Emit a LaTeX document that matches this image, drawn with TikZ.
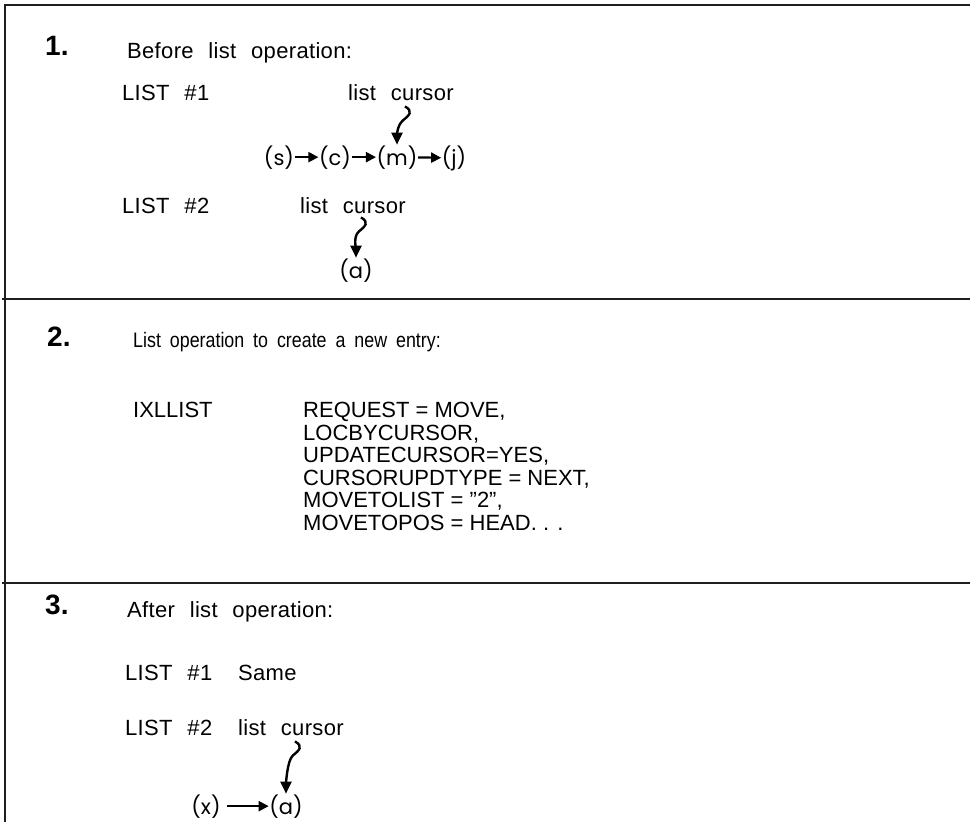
\documentclass[tikz,border=0pt]{standalone}
\usepackage{fontspec}
\setmainfont{Liberation Sans}
\newfontfamily\spaced{Liberation Sans}[LetterSpace=1.5,WordSpace=2.3]
\newfontfamily\narrow{Liberation Sans}[FakeStretch=0.85,WordSpace=1.8]
\newfontfamily\geo{Poppins}
\usetikzlibrary{arrows.meta}
\begin{document}
\begin{tikzpicture}[x=1pt,y=-1pt,
  frame/.style={line width=2.6pt,draw=black!88},
  num/.style={font=\fontsize{28}{28}\selectfont\bfseries,anchor=base west,inner sep=0pt},
  txt/.style={font=\spaced\fontsize{22}{22}\selectfont,anchor=base west,inner sep=0pt},
  plain/.style={font=\narrow\fontsize{21}{21}\selectfont,anchor=base west,inner sep=0pt},
  code/.style={font=\fontsize{22}{22}\selectfont,anchor=base west,inner sep=0pt},
  item/.style={font=\geo\fontsize{21}{21}\selectfont,anchor=base,inner sep=0.5pt},
  link/.style={line width=2.2pt,-{Triangle[length=10pt,width=10pt]}},
  squig/.style={line width=2.4pt,-{Triangle[length=12pt,width=11pt]}}
]
\useasboundingbox (0,0) rectangle (970,822);
\fill[white] (0,0) rectangle (970,822);
% frame
\draw[frame] (970,5) -- (5,5) -- (5,830);
\draw[frame] (2,299) -- (970,299);
\draw[frame] (2,583) -- (970,583);
% section 1
\node[num] (n1) at (45,55) {1.};
\node[txt] (h1) at (127,58) {Before list operation:};
\node[txt] (l11) at (122,100) {LIST \#1};
\node[txt] (lc1) at (348,100) {list cursor};
\node[item] (s) at (279,165) {(s)};
\node[item] (c) at (335,165) {(c)};
\node[item] (m) at (397,165) {(m)};
\node[item] (j) at (454,165) {(j)};
\draw[link] (s) -- (c);
\draw[link] (c) -- (m);
\draw[link] (m) -- (j);
\draw[squig] ([xshift=4pt,yshift=-6pt]lc1.south) .. controls +(9,5) and +(6,-5) .. ++(-2,14) .. controls +(-6,5) and +(0,-8) .. (m.north);
\node[txt] (l12) at (122,213) {LIST \#2};
\node[txt] (lc2) at (300,213) {list cursor};
\node[item] (a1) at (356,278) {(a)};
\draw[squig] ([xshift=8pt,yshift=-4pt]lc2.south) .. controls +(9,5) and +(6,-5) .. ++(-2,14) .. controls +(-6,5) and +(0,-8) .. (a1.north);
% section 2
\node[num] (n2) at (47,346) {2.};
\node[plain] (h2) at (133,347) {List operation to create a new entry:};
\node[code] (ix) at (133,417) {IXLLIST};
\node[code] (r1) at (303,417) {REQUEST = MOVE,};
\node[code] (r2) at (303,440) {LOCBYCURSOR,};
\node[code] (r3) at (303,462) {UPDATECURSOR=YES,};
\node[code] (r4) at (303,485) {CURSORUPDTYPE = NEXT,};
\node[code] (r5) at (303,507) {MOVETOLIST = "2",};
\node[code] (r6) at (303,530) {MOVETOPOS = HEAD. . .};
% section 3
\node[num] (n3) at (45,614) {3.};
\node[txt] (h3) at (127,617) {After list operation:};
\node[txt] (l31) at (125,680) {LIST \#1};
\node[txt] (same) at (238,680) {Same};
\node[txt] (l32) at (125,735) {LIST \#2};
\node[txt] (lc3) at (238,735) {list cursor};
\node[item] (x) at (206,814) {(x)};
\node[item] (a3) at (286,814) {(a)};
\draw[link,shorten <=6pt] (x) -- (a3);
\draw[squig] ([xshift=4pt,yshift=-6pt]lc3.south) .. controls +(9,5) and +(6,-5) .. ++(-2,14) .. controls +(-6,5) and +(0,-8) .. (a3.north);
\end{tikzpicture}
\end{document}
